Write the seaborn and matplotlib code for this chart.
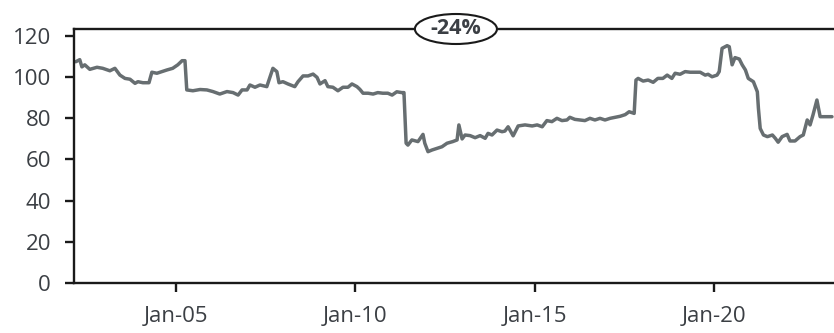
import numpy as np
import pandas as pd
import matplotlib
matplotlib.use("Agg")
import matplotlib.pyplot as plt
import matplotlib.dates as mdates
from matplotlib.patches import Ellipse
import seaborn as sns

# Index level over time (decimal years) and its values
years = [
    2002.22, 2002.33, 2002.39, 2002.47, 2002.61, 2002.81, 2002.97, 2003.17, 2003.31, 2003.45,
    2003.59, 2003.73, 2003.87, 2003.95, 2004.09, 2004.26, 2004.34, 2004.48, 2004.62, 2004.76,
    2004.92, 2005.06, 2005.18, 2005.26, 2005.31, 2005.48, 2005.68, 2005.87, 2006.04, 2006.23,
    2006.43, 2006.60, 2006.74, 2006.85, 2006.99, 2007.07, 2007.21, 2007.35, 2007.54, 2007.63,
    2007.71, 2007.82, 2007.88, 2007.99, 2008.13, 2008.32, 2008.41, 2008.55, 2008.69, 2008.83,
    2008.94, 2009.02, 2009.16, 2009.24, 2009.38, 2009.52, 2009.66, 2009.80, 2009.91, 2010.05,
    2010.13, 2010.22, 2010.36, 2010.50, 2010.63, 2010.77, 2010.91, 2011.03, 2011.16, 2011.30,
    2011.36, 2011.42, 2011.47, 2011.58, 2011.75, 2011.89, 2011.94, 2012.03, 2012.14, 2012.28,
    2012.42, 2012.56, 2012.72, 2012.84, 2012.89, 2012.98, 2013.06, 2013.20, 2013.34, 2013.48,
    2013.62, 2013.70, 2013.81, 2013.95, 2014.09, 2014.17, 2014.26, 2014.40, 2014.54, 2014.73,
    2014.93, 2015.07, 2015.21, 2015.34, 2015.48, 2015.62, 2015.76, 2015.90, 2015.98, 2016.12,
    2016.26, 2016.40, 2016.54, 2016.68, 2016.82, 2016.96, 2017.10, 2017.24, 2017.38, 2017.52,
    2017.63, 2017.77, 2017.82, 2017.88, 2018.02, 2018.16, 2018.30, 2018.43, 2018.57, 2018.69,
    2018.82, 2018.91, 2019.05, 2019.19, 2019.33, 2019.47, 2019.61, 2019.75, 2019.83, 2019.94,
    2020.08, 2020.14, 2020.22, 2020.36, 2020.42, 2020.50, 2020.58, 2020.70, 2020.78, 2020.87,
    2020.95, 2021.09, 2021.20, 2021.23, 2021.28, 2021.37, 2021.48, 2021.62, 2021.70, 2021.78,
    2021.89, 2022.03, 2022.11, 2022.25, 2022.39, 2022.48, 2022.59, 2022.67, 2022.75, 2022.86,
    2022.95, 2023.09, 2023.28,
]
values = [
    107.5, 108.5, 105.0, 106.0, 103.8, 104.8, 104.3, 103.1, 104.3, 101.0,
    99.4, 99.0, 97.0, 97.8, 97.3, 97.3, 102.4, 101.9, 102.7, 103.5,
    104.3, 106.0, 108.0, 108.0, 93.8, 93.4, 94.0, 93.8, 93.0, 91.8,
    93.0, 92.5, 91.3, 93.8, 93.8, 96.2, 95.1, 96.2, 95.4, 100.2,
    104.3, 102.7, 97.3, 97.8, 96.7, 95.4, 97.8, 100.6, 100.6, 101.5,
    99.9, 96.7, 98.3, 95.4, 95.1, 93.4, 95.1, 95.1, 96.7, 95.4,
    94.1, 92.2, 92.2, 91.8, 92.5, 92.2, 92.2, 91.3, 92.9, 92.5,
    92.5, 67.9, 67.0, 69.5, 68.7, 72.2, 67.9, 63.8, 64.6, 65.4,
    66.2, 67.9, 68.7, 69.5, 76.8, 70.0, 71.9, 71.6, 70.6, 71.6,
    70.3, 72.7, 71.9, 74.3, 73.5, 73.8, 75.9, 71.5, 76.3, 76.8,
    76.3, 76.8, 75.9, 78.9, 78.4, 80.0, 78.9, 79.2, 80.5, 79.5,
    79.2, 78.9, 80.0, 79.2, 80.0, 79.2, 80.0, 80.5, 81.0, 81.8,
    83.2, 82.4, 98.6, 99.4, 98.1, 98.6, 97.5, 99.4, 99.4, 101.0,
    99.4, 101.9, 101.4, 102.7, 102.4, 102.4, 102.4, 101.0, 101.4, 100.2,
    101.0, 102.7, 114.0, 115.3, 114.8, 106.0, 109.5, 108.8, 106.0, 103.5,
    99.4, 97.8, 92.9, 84.9, 75.1, 71.9, 71.1, 71.9, 70.3, 68.4,
    71.1, 72.2, 69.0, 69.0, 71.1, 71.9, 79.2, 76.8, 81.6, 88.9,
    80.8, 80.8, 80.8,
]
tick_years = [2005, 2010, 2015, 2020]
y_ticks = [0, 20, 40, 60, 80, 100, 120]
change_label = "-24%"


def to_date(y):
    base = pd.Timestamp(int(y), 1, 1)
    return base + pd.Timedelta(days=(y - int(y)) * 365.25)


df = pd.DataFrame({"date": [to_date(y) for y in years], "value": values})

sns.set_theme(style="white")
plt.rcParams["font.family"] = ["Open Sans", "DejaVu Sans"]

fig = plt.figure(figsize=(8.34, 3.33), dpi=100)
W, H = 834, 333
left_px, right_px, top_px, bottom_px = 74, 860, 29, 283
ax = fig.add_axes([left_px / W, (H - bottom_px) / H,
                   (right_px - left_px) / W, (bottom_px - top_px) / H])

sns.lineplot(data=df, x="date", y="value", ax=ax, color="#676e71",
             linewidth=2.5, legend=False)

ymax = 123.4
ax.set_xlim(to_date(2002.17), to_date(2005 + (right_px - 175.7) / 35.9))
ax.set_ylim(0, ymax)
ax.set_yticks(y_ticks)
ax.set_xticks([pd.Timestamp(y, 1, 1) for y in tick_years])
ax.xaxis.set_major_formatter(mdates.DateFormatter("%b-%y"))
ax.set_xlabel("")
ax.set_ylabel("")

for side in ["left", "bottom", "top", "right"]:
    ax.spines[side].set_visible(True)
    ax.spines[side].set_color("#1a1a1a")
    ax.spines[side].set_linewidth(1.7)

ax.tick_params(axis="both", which="major", length=6.5, width=1.7, color="#1a1a1a",
               labelsize=16, labelcolor="#3b3f44", direction="out")
ax.tick_params(axis="x", pad=10, bottom=True)
ax.tick_params(axis="y", pad=10, left=True)
ax.grid(False)

# Oval callout on the top border
cx = mdates.date2num(to_date(2005 + (456 - 175.7) / 35.9))
ax.add_patch(Ellipse((cx, ymax), width=82 / 35.9 * 365.25,
                     height=30 / 2.0583, facecolor="white", edgecolor="#1a1a1a",
                     linewidth=1.5, transform=ax.transData, clip_on=False, zorder=5))
ax.text(cx, ymax, change_label, ha="center", va="center",
        fontsize=15.5, fontweight="bold", color="#3b3f44", zorder=6, clip_on=False)

fig.savefig("out.png", dpi=100)
